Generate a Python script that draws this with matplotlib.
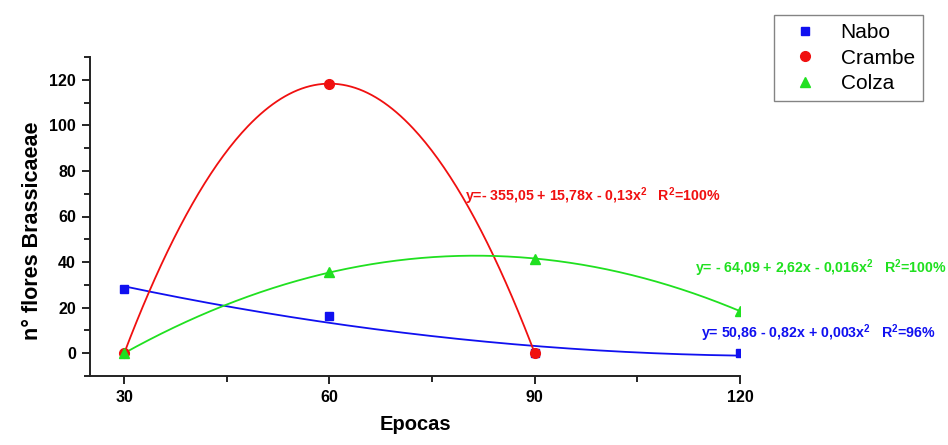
import numpy as np
import matplotlib
matplotlib.use('agg')
import matplotlib.pyplot as plt

plt.rcParams['font.family'] = ['Liberation Sans', 'DejaVu Sans']
plt.rcParams['mathtext.fontset'] = 'custom'
plt.rcParams['mathtext.bf'] = 'Liberation Sans:bold'
plt.rcParams['mathtext.rm'] = 'Liberation Sans:bold'
plt.rcParams['mathtext.default'] = 'bf'

epocas = [30, 60, 90, 120]
nabo = [28.3, 16.5, 0.0, 0.0]
crambe_epocas = [30, 60, 90]
crambe = [0.0, 118.3, 0.0]
colza = [0.0, 35.5, 41.5, 18.5]

eq_crambe = r'y=- 355,05 + 15,78x - 0,13x$^{2}$   R$^{2}$=100%'
eq_colza = r'y= - 64,09 + 2,62x - 0,016x$^{2}$   R$^{2}$=100%'
eq_nabo = r'y= 50,86 - 0,82x + 0,003x$^{2}$   R$^{2}$=96%'

blue = '#1010f0'
red = '#f01010'
green = '#20e020'


def fit_curve(x, y, x_end):
    coefs = np.polyfit(x, y, 2)
    xs = np.linspace(x[0], x_end, 200)
    return xs, np.polyval(coefs, xs)


fig = plt.figure(figsize=(9.48, 4.45), dpi=100)
ax = fig.add_axes([90 / 948, 1 - 376 / 445, 650 / 948, 319 / 445])

xs, ys = fit_curve(epocas, nabo, 120)
ax.plot(xs, ys, color=blue, lw=1.3)
xs, ys = fit_curve(crambe_epocas, crambe, 90)
ax.plot(xs, ys, color=red, lw=1.3)
xs, ys = fit_curve(epocas, colza, 120)
ax.plot(xs, ys, color=green, lw=1.3)

ax.plot(epocas, nabo, 's', color=blue, ms=6, label='Nabo', zorder=3)
ax.plot(crambe_epocas, crambe, 'o', color=red, ms=7, label='Crambe', zorder=3)
ax.plot(epocas, colza, '^', color=green, ms=7, label='Colza', zorder=3)

ax.set_xlim(25, 120)
ax.set_ylim(-10, 130)
ax.set_xticks([30, 60, 90, 120])
ax.set_xticks([45, 75, 105], minor=True)
ax.set_yticks(range(0, 121, 20))
ax.set_yticks(range(-10, 131, 20), minor=True)
ax.tick_params(which='major', direction='out', length=6, width=1.2, labelsize=11.5, pad=4)
ax.tick_params(which='minor', direction='out', length=4, width=1.2)
for lab in ax.get_xticklabels() + ax.get_yticklabels():
    lab.set_fontweight('bold')
ax.spines['top'].set_visible(False)
ax.spines['right'].set_visible(False)
for s in ('left', 'bottom'):
    ax.spines[s].set_linewidth(1.4)
    ax.spines[s].set_color('#222222')

ax.set_xlabel('Epocas', fontsize=14.5, fontweight='bold', labelpad=7)
ax.set_ylabel('n° flores Brassicaeae', fontsize=15.5, fontweight='bold')
ax.yaxis.set_label_coords(-0.072, 0.455)

fig.text(465 / 948, 1 - 196 / 445, eq_crambe, color=red, fontsize=10.2, fontweight='bold', va='center')
fig.text(695 / 948, 1 - 268 / 445, eq_colza, color=green, fontsize=10.2, fontweight='bold', va='center')
fig.text(701 / 948, 1 - 333 / 445, eq_nabo, color=blue, fontsize=10.2, fontweight='bold', va='center')

leg = fig.legend(loc='upper left', bbox_to_anchor=(774 / 948, 1 - 15 / 445), fontsize=15,
                 frameon=True, fancybox=False, edgecolor='#666666', handletextpad=0.6,
                 borderpad=0.4, labelspacing=0.3, handlelength=2.2, borderaxespad=0)
leg.get_frame().set_linewidth(1.0)

fig.savefig('out.png', dpi=100)
